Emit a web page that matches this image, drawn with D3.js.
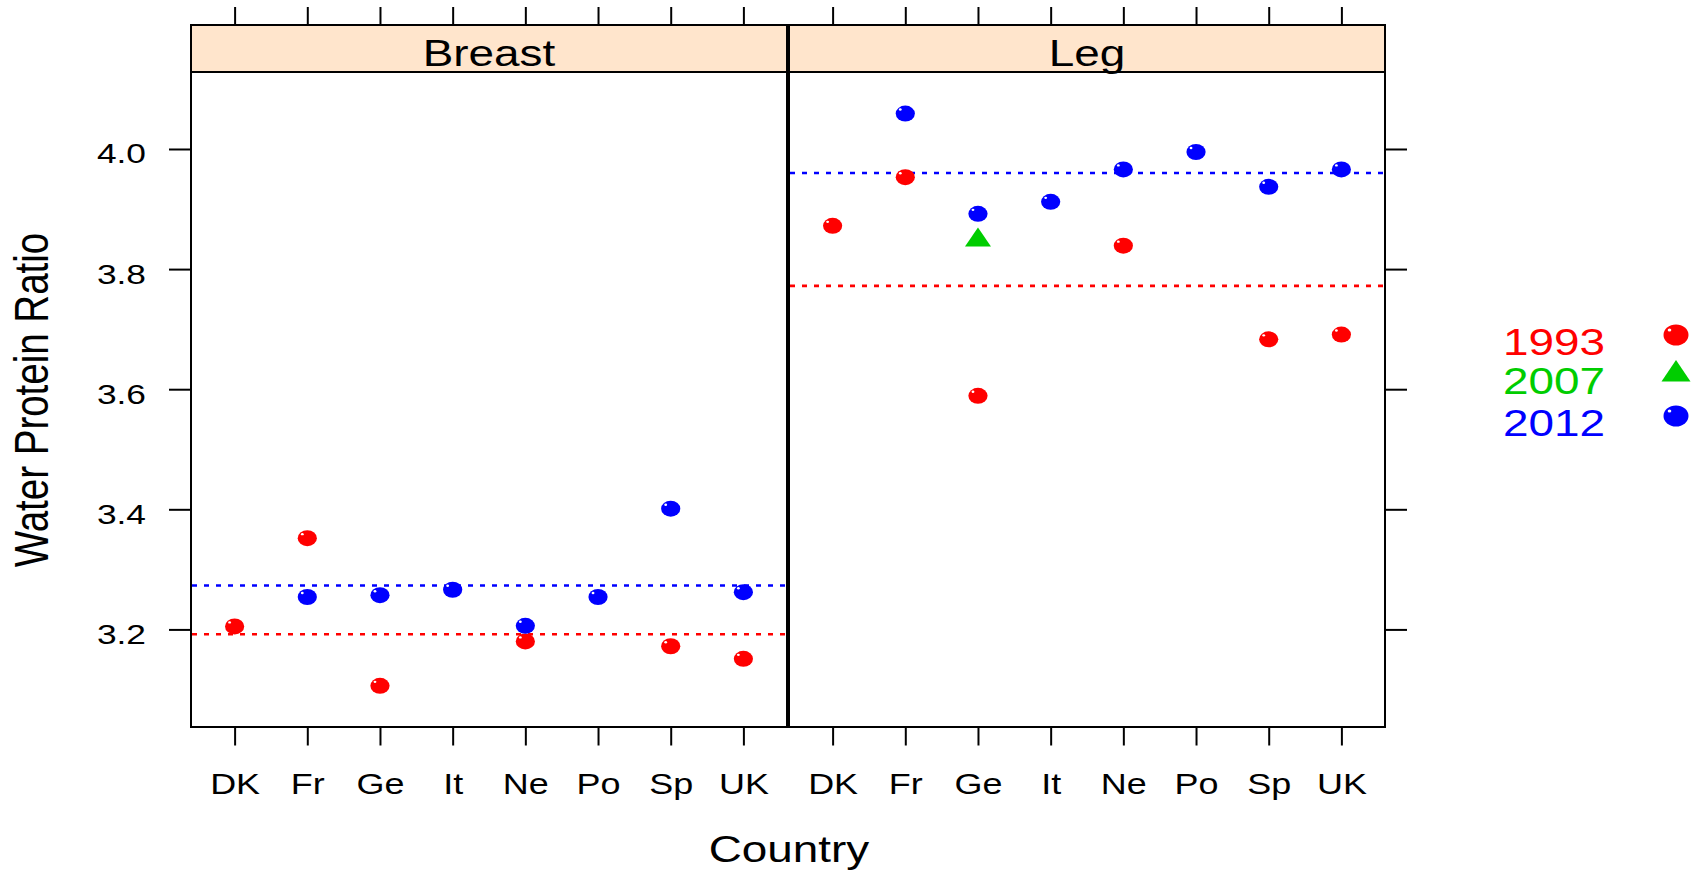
<!DOCTYPE html>
<html>
<head>
<meta charset="utf-8">
<script src="https://cdn.jsdelivr.net/npm/d3@7"></script>
<style>
  html, body { margin: 0; padding: 0; background: #ffffff; }
  svg { display: block; }
  text { font-family: "Liberation Sans", Arial, Helvetica, sans-serif; }
</style>
</head>
<body>
<svg id="chart" width="1694" height="870"></svg>
<script>
// ---------------- data ----------------
const countries = ["DK", "Fr", "Ge", "It", "Ne", "Po", "Sp", "UK"];
const panelNames = ["Breast", "Leg"];
const years = ["1993", "2007", "2012"];
const yearColors = ["#FF0000", "#00CD00", "#0000FF"];
const yTicks = [3.2, 3.4, 3.6, 3.8, 4.0];

const breast1993 = [3.205, 3.352, 3.106, null, 3.180, null, 3.172, 3.151];
const breast2007 = [null, null, null, null, null, null, null, null];
const breast2012 = [null, 3.254, 3.257, 3.266, 3.206, 3.254, 3.401, 3.262];

const leg1993 = [3.872, 3.953, 3.589, null, 3.839, null, 3.683, 3.691];
const leg2007 = [null, null, 3.848, null, null, null, null, null];
const leg2012 = [null, 4.059, 3.892, 3.912, 3.966, 3.995, 3.937, 3.966];

// dashed reference lines per panel (1993, 2007, 2012)
const breastRefLines = [3.192, null, 3.273];
const legRefLines = [3.772, null, 3.960];

// ---------------- layout ----------------
const W = 1694, H = 870;
const SX = 1.24;               // horizontal stretch of the original rendering
const panelTop = 72, panelBottom = 727, stripTop = 25;
const panelX = [[191, 787], [789, 1385]];
const svg = d3.select("#chart");

const y = d3.scaleLinear().domain([3.0375, 4.1282]).range([panelBottom, panelTop]);

const panels = [
  { name: panelNames[0], series: [breast1993, breast2007, breast2012], refs: breastRefLines, xr: panelX[0] },
  { name: panelNames[1], series: [leg1993, leg2007, leg2012], refs: legRefLines, xr: panelX[1] }
];

function stretchText(sel, anchorX) {
  // stretch text horizontally around its anchor x
  sel.each(function () {
    const t = d3.select(this);
    const x = anchorX !== undefined ? anchorX : (+t.attr("x") || 0);
    t.attr("x", x / SX).attr("transform", `scale(${SX},1)`);
  });
}

panels.forEach((p, pi) => {
  const x = d3.scalePoint().domain(countries).range(p.xr).padding(0.6);
  const g = svg.append("g");

  // strip
  g.append("rect")
    .attr("x", p.xr[0]).attr("y", stripTop)
    .attr("width", p.xr[1] - p.xr[0]).attr("height", panelTop - stripTop)
    .attr("fill", "#FFE5CC").attr("stroke", "#000").attr("stroke-width", 2);
  g.append("text")
    .attr("x", ((p.xr[0] + p.xr[1]) / 2) / SX).attr("y", 66)
    .attr("transform", `scale(${SX},1)`)
    .attr("text-anchor", "middle").attr("font-size", 37).attr("fill", "#000")
    .text(p.name);

  // panel box
  g.append("rect")
    .attr("x", p.xr[0]).attr("y", panelTop)
    .attr("width", p.xr[1] - p.xr[0]).attr("height", panelBottom - panelTop)
    .attr("fill", "none").attr("stroke", "#000").attr("stroke-width", 2);

  // top ticks (above strip)
  const topAx = g.append("g").attr("transform", `translate(0,${stripTop})`)
    .call(d3.axisTop(x).tickSize(18).tickFormat(""));
  topAx.select(".domain").remove();
  topAx.selectAll("line").attr("stroke", "#000").attr("stroke-width", 2);

  // bottom ticks with labels
  const botAx = g.append("g").attr("transform", `translate(0,${panelBottom})`)
    .call(d3.axisBottom(x).tickSize(18.5).tickPadding(0));
  botAx.select(".domain").remove();
  botAx.selectAll("line").attr("stroke", "#000").attr("stroke-width", 2);
  botAx.selectAll("text")
    .attr("font-size", 29).attr("fill", "#000")
    .attr("dy", null).attr("y", 67)
    .attr("transform", `scale(${SX},1)`)
    .style("font-family", '"Liberation Sans", Arial, Helvetica, sans-serif');

  // y axis: left for first panel (labels), right for last
  if (pi === 0) {
    const lAx = g.append("g").attr("transform", `translate(${p.xr[0]},0)`)
      .call(d3.axisLeft(y).tickValues(yTicks).tickSize(22).tickFormat(d3.format(".1f")));
    lAx.select(".domain").remove();
    lAx.selectAll("line").attr("stroke", "#000").attr("stroke-width", 2);
    lAx.selectAll("text")
      .attr("font-size", 28.5).attr("fill", "#000")
      .attr("dy", null).attr("y", 14)
      .style("font-family", '"Liberation Sans", Arial, Helvetica, sans-serif')
      .call(stretchText, -(p.xr[0] - 146));
  } else {
    const rAx = g.append("g").attr("transform", `translate(${p.xr[1]},0)`)
      .call(d3.axisRight(y).tickValues(yTicks).tickSize(22).tickFormat(""));
    rAx.select(".domain").remove();
    rAx.selectAll("line").attr("stroke", "#000").attr("stroke-width", 2);
  }

  // reference lines
  p.refs.forEach((v, k) => {
    if (v === null) return;
    g.append("line")
      .attr("x1", p.xr[0] + 1).attr("x2", p.xr[1] - 1)
      .attr("y1", y(v)).attr("y2", y(v))
      .attr("stroke", yearColors[k]).attr("stroke-width", 2.6)
      .attr("stroke-dasharray", "5,7");
  });

  // points
  p.series.forEach((vals, k) => {
    const pts = vals.map((v, i) => ({ c: countries[i], v })).filter(d => d.v !== null);
    const pg = g.append("g");
    if (k === 1) {
      pg.selectAll("path").data(pts).enter().append("path")
        .attr("transform", d => `translate(${x(d.c)},${y(d.v)})`)
        .attr("d", "M0,-12.7 L13,6.3 L-13,6.3 Z")
        .attr("fill", yearColors[k]);
    } else {
      const dots = pg.selectAll("g").data(pts).enter().append("g")
        .attr("transform", d => `translate(${x(d.c)},${y(d.v)})`);
      dots.append("ellipse").attr("rx", 9.6).attr("ry", 8).attr("fill", yearColors[k]);
      dots.append("ellipse").attr("cx", -5).attr("cy", -4).attr("rx", 1.4).attr("ry", 1.2).attr("fill", "#fff");
    }
  });
});

// axis titles
svg.append("text")
  .attr("transform", `translate(32,400) scale(${SX},1) rotate(-90)`)
  .attr("x", 0).attr("y", 13)
  .attr("text-anchor", "middle").attr("font-size", 38.5).attr("fill", "#000")
  .text("Water Protein Ratio");

svg.append("text")
  .attr("x", 789 / SX).attr("y", 862)
  .attr("transform", `scale(${SX},1)`)
  .attr("text-anchor", "middle").attr("font-size", 37).attr("fill", "#000")
  .text("Country");

// legend
const legendY = [341, 380, 422];
const leg = svg.append("g");
years.forEach((yr, k) => {
  leg.append("text")
    .attr("x", 1503 / SX).attr("y", legendY[k] + 14)
    .attr("transform", `scale(${SX},1)`)
    .attr("font-size", 37).attr("fill", yearColors[k])
    .text(yr);
  const sg = leg.append("g").attr("transform", `translate(1676,${legendY[k] - 6})`);
  if (k === 1) {
    sg.append("path").attr("d", "M0,-14 L14.5,7.5 L-14.5,7.5 Z").attr("fill", yearColors[k]);
  } else {
    sg.append("ellipse").attr("rx", 12.5).attr("ry", 10.5).attr("fill", yearColors[k]);
    sg.append("ellipse").attr("cx", -6.5).attr("cy", -5).attr("rx", 1.8).attr("ry", 1.5).attr("fill", "#fff");
  }
});
</script>
</body>
</html>
